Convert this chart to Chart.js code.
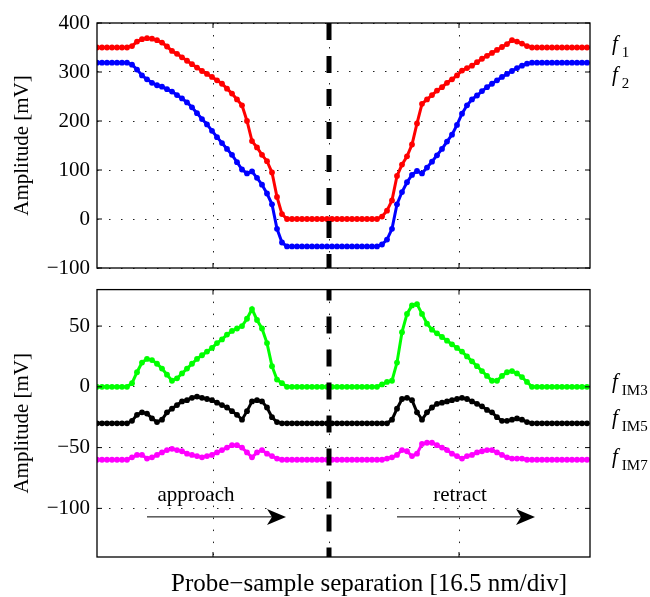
<!DOCTYPE html>
<html>
<head>
<meta charset="utf-8">
<script src="https://cdn.jsdelivr.net/npm/chart.js@4.4.0/dist/chart.umd.min.js"></script>
<style>
  html, body { margin: 0; padding: 0; background: #fff; }
  #wrap { position: relative; width: 650px; height: 597px; }
  canvas { position: absolute; left: 0; }
  #topChart { top: 0; }
  #bottomChart { top: 270px; }
</style>
</head>
<body>
<div id="wrap">
  <canvas id="topChart" width="650" height="290"></canvas>
  <canvas id="bottomChart" width="650" height="327"></canvas>
</div>
<script>
// samples are evenly spaced along the probe-sample separation axis (index 0..98)
const f1 = [
  350, 350, 350, 350, 350, 350, 350,
  353, 362, 367, 369, 368, 365, 360, 352, 343, 337, 330, 323, 316, 309, 302, 296, 290, 283, 276, 266, 256, 244, 232, 200, 159, 146, 131, 118, 95, 45, 10,
  0, 0, 0, 0, 0, 0, 0, 0, 0, 0, 0, 0, 0, 0, 0, 0, 0, 0, 0,
  5, 17, 38, 88, 111, 128, 152, 195, 235, 244, 253, 262, 269, 278, 285, 293, 303, 308, 313, 320, 327, 333, 339, 345, 351, 357, 365, 362, 358, 353,
  350, 350, 350, 350, 350, 350, 350, 350, 350, 350, 350, 350
];
const f2 = [
  319, 319, 319, 319, 319, 319, 319,
  315, 305, 293, 285, 278, 273, 270, 265, 260, 253, 246, 238, 228, 216, 204, 193, 180, 167, 155, 143, 131, 116, 101, 93, 97, 84, 70, 52, 30, -20, -48,
  -56, -56, -56, -56, -56, -56, -56, -56, -56, -56, -56, -56, -56, -56, -56, -56, -56, -56, -56,
  -52, -42, -20, 30, 55, 75, 90, 98, 93, 105, 117, 130, 143, 158, 172, 192, 215, 232, 244, 252, 261, 269, 276, 283, 290, 296, 302, 308, 313, 317,
  319, 319, 319, 319, 319, 319, 319, 319, 319, 319, 319, 319
];
const fIM3 = [
  0, 0, 0, 0, 0, 0, 0,
  3, 12, 20, 23, 22, 19, 15, 10, 5, 7, 11, 15, 19, 23, 26, 29, 32, 36, 39, 43, 46, 48, 50, 56, 64, 55, 48, 36, 17, 6, 3,
  0, 0, 0, 0, 0, 0, 0, 0, 0, 0, 0, 0, 0, 0, 0, 0, 0, 0, 0,
  2, 4, 5, 20, 45, 60, 67, 68, 60, 52, 47, 44, 41, 38, 35, 32, 29, 25, 21, 17, 13, 9, 5, 5, 9, 12, 13, 11, 8, 4,
  0, 0, 0, 0, 0, 0, 0, 0, 0, 0, 0, 0
];
const fIM5 = [
  -30, -30, -30, -30, -30, -30, -30,
  -28, -23, -21, -22, -26, -29, -27, -21, -18, -15, -12, -11, -9, -8, -9, -10, -11, -13, -15, -17, -20, -23, -27, -20, -12, -11, -12, -17, -25, -29, -30,
  -30, -30, -30, -30, -30, -30, -30, -30, -30, -30, -30, -30, -30, -30, -30, -30, -30, -30, -30,
  -30, -30, -27, -18, -10, -9, -11, -21, -27, -21, -17, -14, -13, -12, -11, -10, -9, -10, -12, -14, -16, -19, -21, -25, -28, -28, -27, -26, -27, -29,
  -30, -30, -30, -30, -30, -30, -30, -30, -30, -30, -30, -30
];
const fIM7 = [
  -60, -60, -60, -60, -60, -60, -60,
  -58, -56, -56, -59, -58, -56, -54, -52, -51, -52, -53, -55, -56, -57, -58, -57, -56, -54, -52, -50, -48, -48, -50, -54, -58, -54, -52, -55, -57, -59,
  -60, -60, -60, -60, -60, -60, -60, -60, -60, -60, -60, -60, -60, -60, -60, -60, -60, -60, -60, -60, -60,
  -59, -58, -56, -52, -53, -57, -55, -47, -46, -46, -48, -50, -52, -55, -57, -59, -57, -56, -54, -53, -52, -52, -54, -56, -58, -59, -59, -59,
  -60, -60, -60, -60, -60, -60, -60, -60, -60, -60, -60, -60, -60
];

const xRange = [0, 98.6];
const xGrid = [23.2, 46.4, 72.4];     // division lines
const contactAt = 46.4;               // dash-dot line
const fTicks = [-100, 0, 100, 200, 300, 400];
const imTicks = [-100, -50, 0, 50];
const topTags = ['1', '2'];
const imTags = ['IM3', 'IM5', 'IM7'];
const notes = [
  { text: 'approach', x: 19.8, y: -94, from: 10, to: 37.8, arrowY: -107 },
  { text: 'retract', x: 72.6, y: -94, from: 60, to: 87.6, arrowY: -107 }
];
const xTitle = 'Probe\u2212sample separation [16.5 nm/div]';

const FONT = '"Liberation Serif", "Times New Roman", serif';

const pts = arr => arr.map((v, i) => ({ x: i, y: v }));
const series = (arr, color) => ({
  data: pts(arr),
  borderColor: color,
  backgroundColor: color,
  pointBackgroundColor: color,
  borderWidth: 3,
  pointRadius: 2.9,
  pointBorderWidth: 0,
  pointHoverRadius: 0,
  tension: 0
});

function matlabLook(cfg) {
  return {
    id: 'matlabLook',
    afterDatasetsDraw(chart) {
      const { ctx, chartArea: a, scales: { x } } = chart;
      const px = x.getPixelForValue(contactAt);
      ctx.save();
      ctx.strokeStyle = '#000';
      ctx.lineWidth = 5;
      ctx.setLineDash([17, 16]);
      ctx.lineDashOffset = cfg.dashOffset || 0;
      ctx.beginPath();
      ctx.moveTo(px, a.top);
      ctx.lineTo(px, a.bottom);
      ctx.stroke();
      ctx.restore();
    },
    afterDraw(chart) {
      const { ctx, chartArea: a, scales: { x, y } } = chart;
      ctx.save();
      // box and inward ticks
      ctx.strokeStyle = '#000';
      ctx.lineWidth = 1.3;
      ctx.strokeRect(a.left, a.top, a.right - a.left, a.bottom - a.top);
      ctx.lineWidth = 1;
      ctx.beginPath();
      y.ticks.forEach(t => {
        const p = y.getPixelForValue(t.value);
        ctx.moveTo(a.left, p); ctx.lineTo(a.left + 5, p);
        ctx.moveTo(a.right, p); ctx.lineTo(a.right - 5, p);
      });
      x.ticks.forEach(t => {
        const p = x.getPixelForValue(t.value);
        ctx.moveTo(p, a.top); ctx.lineTo(p, a.top + 5);
        ctx.moveTo(p, a.bottom); ctx.lineTo(p, a.bottom - 5);
      });
      ctx.stroke();

      // series tags on the right
      ctx.fillStyle = '#000';
      ctx.textAlign = 'left';
      ctx.textBaseline = 'alphabetic';
      cfg.tags.forEach((sub, k) => {
        const d = chart.data.datasets[k].data;
        const base = y.getPixelForValue(d[d.length - 1].y) + cfg.tagShift[k];
        const lx = a.right + 22;
        ctx.font = 'italic 21px ' + FONT;
        ctx.fillText('f', lx, base);
        const w = ctx.measureText('f').width;
        ctx.font = '15px ' + FONT;
        ctx.fillText(sub, lx + w + 4, base + 7);
      });

      // approach / retract arrows
      (cfg.notes || []).forEach(n => {
        ctx.font = '21px ' + FONT;
        ctx.textAlign = 'center';
        ctx.fillText(n.text, x.getPixelForValue(n.x), y.getPixelForValue(n.y));
        const x0 = x.getPixelForValue(n.from);
        const x1 = x.getPixelForValue(n.to);
        const ay = y.getPixelForValue(n.arrowY);
        ctx.lineWidth = 1;
        ctx.beginPath();
        ctx.moveTo(x0, ay);
        ctx.lineTo(x1 - 12, ay);
        ctx.stroke();
        ctx.beginPath();
        ctx.moveTo(x1, ay);
        ctx.lineTo(x1 - 19, ay - 8);
        ctx.lineTo(x1 - 14, ay);
        ctx.lineTo(x1 - 19, ay + 8);
        ctx.closePath();
        ctx.fill();
      });

      if (cfg.xTitle) {
        ctx.font = '25px ' + FONT;
        ctx.textAlign = 'center';
        ctx.fillText(cfg.xTitle, 369, a.bottom + 34);
      }
      ctx.restore();
    }
  };
}

function makeScales(range, ticks, padTop) {
  return {
    x: {
      type: 'linear',
      min: xRange[0],
      max: xRange[1],
      afterBuildTicks: s => { s.ticks = xGrid.map(v => ({ value: v })); },
      afterFit: s => { s.height = padTop; },
      ticks: { display: false },
      grid: { color: '#222', lineWidth: 1, drawTicks: false },
      border: { display: false, dash: [1.5, 10.5] }
    },
    y: {
      type: 'linear',
      min: range[0],
      max: range[1],
      afterBuildTicks: s => { s.ticks = ticks.map(v => ({ value: v })); },
      afterFit: s => { s.width = 97; },
      ticks: {
        color: '#000',
        padding: 7,
        font: { family: FONT, size: 21 },
        callback: v => String(v).replace('-', '\u2212')
      },
      grid: { color: '#222', lineWidth: 1, drawTicks: false },
      border: { display: false, dash: [1.5, 10.5] },
      title: {
        display: true,
        text: 'Amplitude [mV]',
        color: '#000',
        font: { family: FONT, size: 21 },
        padding: { top: 10, bottom: 0 }
      }
    }
  };
}

const common = {
  responsive: false,
  animation: false,
  devicePixelRatio: 1,
  events: [],
  plugins: { legend: { display: false }, tooltip: { enabled: false } }
};

new Chart(document.getElementById('topChart').getContext('2d'), {
  type: 'line',
  data: { datasets: [series(f1, '#ff0000'), series(f2, '#0000ff')] },
  options: Object.assign({}, common, {
    layout: { padding: { top: 23, right: 60, bottom: 22, left: 0 } },
    scales: makeScales([-100, 400], fTicks, 0)
  }),
  plugins: [matlabLook({ tags: topTags, tagShift: [2, 18] })]
});

new Chart(document.getElementById('bottomChart').getContext('2d'), {
  type: 'line',
  data: { datasets: [series(fIM3, '#00ff00'), series(fIM5, '#000000'), series(fIM7, '#ff00ff')] },
  options: Object.assign({}, common, {
    layout: { padding: { top: 19, right: 60, bottom: 0, left: 0 } },
    scales: makeScales([-140, 80], imTicks, 40)
  }),
  plugins: [matlabLook({ tags: imTags, tagShift: [1, 1, 3], notes: notes, xTitle: xTitle, dashOffset: 6 })]
});
</script>
</body>
</html>
